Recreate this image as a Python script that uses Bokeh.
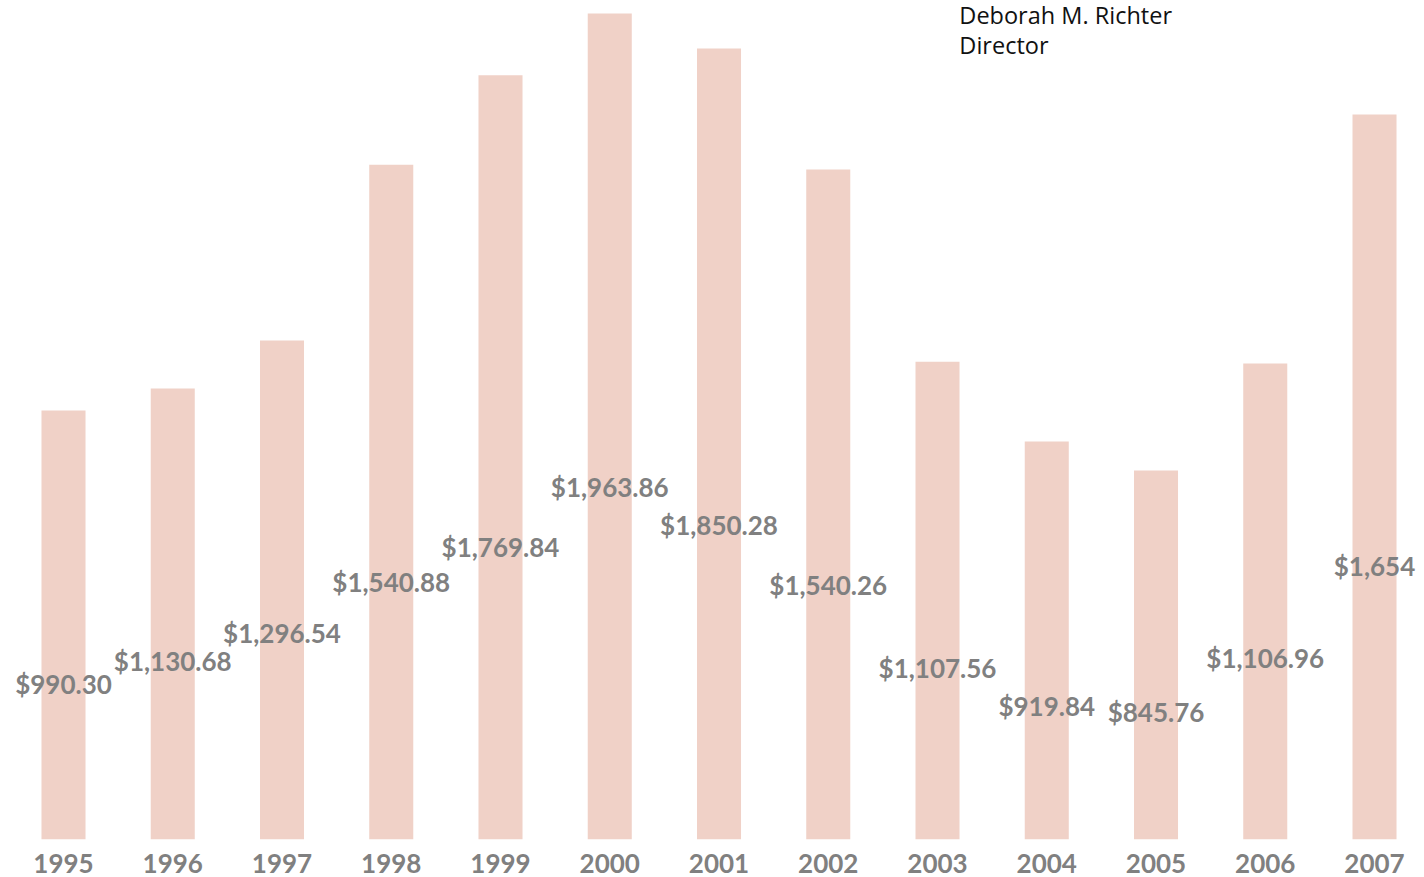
from bokeh.plotting import figure
from bokeh.models import Range1d, FixedTicker, Label, ColumnDataSource, CustomJSTickFormatter
from bokeh.core.properties import value
from bokeh.embed import file_html
from bokeh.resources import INLINE

years = [1995, 1996, 1997, 1998, 1999, 2000, 2001, 2002, 2003, 2004, 2005, 2006, 2007]
bar_heights = [993, 1044, 1155, 1562, 1769, 1912, 1831, 1551, 1106, 921, 854, 1102, 1678]
label_texts = ["$990.30", "$1,130.68", "$1,296.54", "$1,540.88", "$1,769.84", "$1,963.86",
               "$1,850.28", "$1,540.26", "$1,107.56", "$919.84", "$845.76", "$1,106.96", "$1,654"]
label_levels = [359, 414, 479, 595, 678, 817, 727, 590, 398, 310, 294, 421, 634]

src = ColumnDataSource(dict(x=years, top=bar_heights, txt=label_texts, ly=label_levels))

p = figure(width=1424, height=877, output_backend="svg", toolbar_location=None,
           x_range=Range1d(1994.4233, 2007.4576), y_range=Range1d(0, 1942.1),
           min_border_left=0, min_border_right=0, min_border_top=0, min_border_bottom=38)
p.outline_line_color = None
p.grid.visible = False
p.yaxis.visible = False
p.background_fill_color = "white"

p.vbar(x="x", top="top", width=0.403, bottom=0, source=src,
       fill_color="#F0D1C7", line_color=None)

p.text(x="x", y="ly", text="txt", source=src, text_align="center", text_baseline="middle",
       text_font=value("Lato"), text_font_style="bold", text_font_size="26px",
       text_color="#808080")

ax = p.xaxis[0]
ax.ticker = FixedTicker(ticks=years)
ax.formatter = CustomJSTickFormatter(code="return String(tick);")
ax.axis_line_color = None
ax.major_tick_line_color = None
ax.minor_tick_line_color = None
ax.major_tick_out = 0
ax.major_tick_in = 0
ax.major_label_standoff = 14
ax.major_label_text_font = "Lato"
ax.major_label_text_font_style = "bold"
ax.major_label_text_font_size = "26px"
ax.major_label_text_color = "#808080"

for txt, yy in [("Deborah M. Richter", 1909), ("Director", 1838)]:
    p.add_layout(Label(x=2003.2, y=yy, text=txt, text_font="Open Sans",
                       text_font_size="23.5px", text_color="#111111",
                       text_baseline="alphabetic", text_align="left"))

open("out.html", "w").write(file_html(p, INLINE))
